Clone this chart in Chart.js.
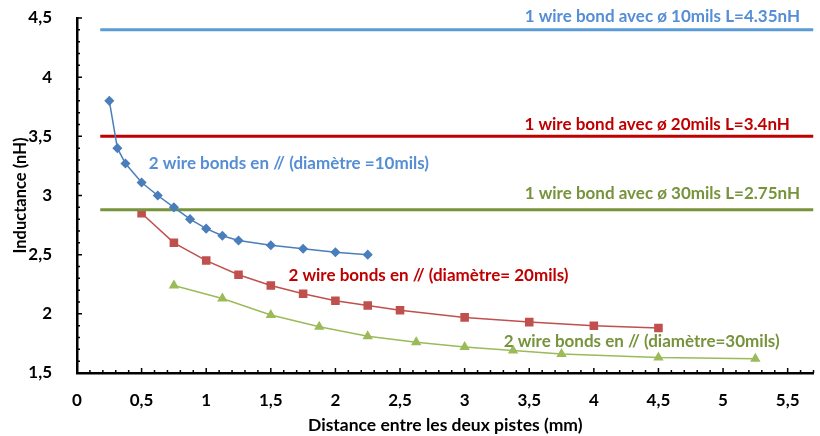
<!DOCTYPE html>
<html>
<head>
<meta charset="utf-8">
<script src="https://cdn.jsdelivr.net/npm/chart.js@4.4.0/dist/chart.umd.min.js"></script>
<style>
html, body { margin: 0; padding: 0; background: #fff; }
#wrap { width: 820px; height: 436px; }
</style>
</head>
<body>
<div id="wrap"><canvas id="inductChart"></canvas></div>
<script>
// 2 wire bonds in parallel : distance (mm) -> inductance (nH)
const dist10 = [0.25, 0.3125, 0.375, 0.5, 0.625, 0.75, 0.875, 1, 1.125, 1.25, 1.5, 1.75, 2, 2.25];
const ind10  = [3.8, 3.4, 3.27, 3.11, 3.0, 2.9, 2.8, 2.72, 2.66, 2.62, 2.58, 2.55, 2.52, 2.5];
const dist20 = [0.5, 0.75, 1, 1.25, 1.5, 1.75, 2, 2.25, 2.5, 3, 3.5, 4, 4.5];
const ind20  = [2.85, 2.6, 2.45, 2.33, 2.24, 2.17, 2.11, 2.07, 2.03, 1.97, 1.93, 1.9, 1.88];
const dist30 = [0.75, 1.125, 1.5, 1.875, 2.25, 2.625, 3, 3.375, 3.75, 4.5, 5.25];
const ind30  = [2.24, 2.13, 1.99, 1.89, 1.81, 1.76, 1.72, 1.69, 1.66, 1.63, 1.62];

// 1 wire bond reference levels (nH), drawn across the plot
const refX = [0.18, 5.7];
const single10 = 4.4;
const single20 = 3.5;
const single30 = 2.88;

const labels = [
    '1 wire bond avec ø 10mils L=4.35nH',
    '1 wire bond avec ø 20mils L=3.4nH',
    '1 wire bond avec ø 30mils L=2.75nH',
    '2 wire bonds en // (diamètre =10mils)',
    '2 wire bonds en // (diamètre= 20mils)',
    '2 wire bonds en // (diamètre=30mils)'
];

const FONT = 'Lato, "Open Sans", sans-serif';

function pts(xs, ys) {
    return xs.map((x, i) => ({ x: x, y: ys[i] }));
}
function flat(xs, v) {
    return xs.map(x => ({ x: x, y: v }));
}

// small inner tick marks like the excel axis
const innerTicks = {
    id: 'innerTicks',
    afterDraw(chart) {
        const ctx = chart.ctx;
        const xs = chart.scales.x, ys = chart.scales.y;
        const area = chart.chartArea;
        ctx.save();
        ctx.strokeStyle = '#000';
        ctx.lineWidth = 1.5;
        ctx.beginPath();
        for (let i = 0; i <= 57; i++) {
            const px = xs.getPixelForValue(i / 10);
            const len = (i % 5 === 0) ? 5 : 3;
            ctx.moveTo(px, area.bottom);
            ctx.lineTo(px, area.bottom - len);
        }
        for (let i = 15; i <= 45; i++) {
            const py = ys.getPixelForValue(i / 10);
            const len = (i % 5 === 0) ? 5 : 3;
            ctx.moveTo(area.left, py);
            ctx.lineTo(area.left + len, py);
        }
        ctx.stroke();
        ctx.restore();
    }
};

// text labels placed at data coords
const notes = {
    id: 'notes',
    afterDatasetsDraw(chart, args, opts) {
        const ctx = chart.ctx;
        const xs = chart.scales.x, ys = chart.scales.y;
        ctx.save();
        ctx.font = 'bold 17px ' + FONT;
        ctx.textAlign = 'center';
        ctx.textBaseline = 'middle';
        opts.items.forEach(it => {
            ctx.fillStyle = it.color;
            ctx.fillText(it.text, xs.getPixelForValue(it.x), ys.getPixelForValue(it.y));
        });
        ctx.restore();
    }
};

const ctx = document.getElementById('inductChart').getContext('2d');
const myChart = new Chart(ctx, {
    type: 'scatter',
    data: {
        datasets: [
            {
                label: 'ref10',
                data: flat(refX, single10),
                showLine: true,
                borderColor: '#5b9bd5',
                borderWidth: 3,
                pointRadius: 0,
                order: 5
            },
            {
                label: 'ref20',
                data: flat(refX, single20),
                showLine: true,
                borderColor: '#c00000',
                borderWidth: 3,
                pointRadius: 0,
                order: 5
            },
            {
                label: 'ref30',
                data: flat(refX, single30),
                showLine: true,
                borderColor: '#77933c',
                borderWidth: 3,
                pointRadius: 0,
                order: 3
            },
            {
                label: '10mils',
                data: pts(dist10, ind10),
                showLine: true,
                borderColor: '#4a7ebb',
                backgroundColor: '#4a7ebb',
                borderWidth: 1.5,
                pointStyle: 'rectRot',
                pointRadius: 4,
                order: 1
            },
            {
                label: '20mils',
                data: pts(dist20, ind20),
                showLine: true,
                borderColor: '#c0504d',
                backgroundColor: '#c0504d',
                borderWidth: 1.5,
                pointStyle: 'rect',
                pointRadius: 5,
                order: 4
            },
            {
                label: '30mils',
                data: pts(dist30, ind30),
                showLine: true,
                borderColor: '#9bbb59',
                backgroundColor: '#9bbb59',
                borderWidth: 1.5,
                pointStyle: 'triangle',
                pointRadius: 4.5,
                order: 2
            }
        ]
    },
    options: {
        responsive: true,
        maintainAspectRatio: false,
        animation: false,
        layout: { padding: { top: 18, right: 3, left: 0, bottom: 0 } },
        plugins: {
            legend: { display: false },
            tooltip: { enabled: false },
            notes: {
                items: [
                    { text: labels[0], color: '#558ed5', x: 4.53, y: 4.51 },
                    { text: labels[1], color: '#c00000', x: 4.49, y: 3.60 },
                    { text: labels[2], color: '#77933c', x: 4.53, y: 3.02 },
                    { text: labels[3], color: '#558ed5', x: 1.64, y: 3.27 },
                    { text: labels[4], color: '#c00000', x: 2.72, y: 2.32 },
                    { text: labels[5], color: '#77933c', x: 4.37, y: 1.77 }
                ]
            }
        },
        scales: {
            x: {
                type: 'linear',
                min: 0,
                max: 5.7,
                grid: { display: false },
                border: { display: true, color: '#000', width: 2.5 },
                ticks: {
                    stepSize: 0.5,
                    includeBounds: false,
                    padding: 9,
                    color: '#000',
                    font: { family: FONT, size: 17, weight: 'bold' },
                    callback: v => String(v).replace('.', ',')
                },
                title: {
                    display: true,
                    text: 'Distance entre les deux pistes (mm)',
                    color: '#000',
                    font: { family: FONT, size: 17.5, weight: 'bold' },
                    padding: { top: 1, bottom: 0 }
                },
                afterFit(scale) {
                    scale.height = 63;
                    scale.paddingLeft = 0;
                    scale.paddingRight = 0;
                }
            },
            y: {
                min: 1.5,
                max: 4.5,
                grid: { display: false },
                border: { display: true, color: '#000', width: 2.5 },
                ticks: {
                    stepSize: 0.5,
                    padding: 17,
                    color: '#000',
                    font: { family: FONT, size: 17, weight: 'bold' },
                    callback: v => String(v).replace('.', ',')
                },
                title: {
                    display: true,
                    text: 'Inductance (nH)',
                    color: '#000',
                    font: { family: FONT, size: 16.5, weight: 'bold' },
                    padding: { top: 11, bottom: 0 }
                },
                afterFit(scale) {
                    scale.width = 77;
                    scale.paddingTop = 0;
                    scale.paddingBottom = 0;
                }
            }
        }
    },
    plugins: [innerTicks, notes]
});
</script>
</body>
</html>
